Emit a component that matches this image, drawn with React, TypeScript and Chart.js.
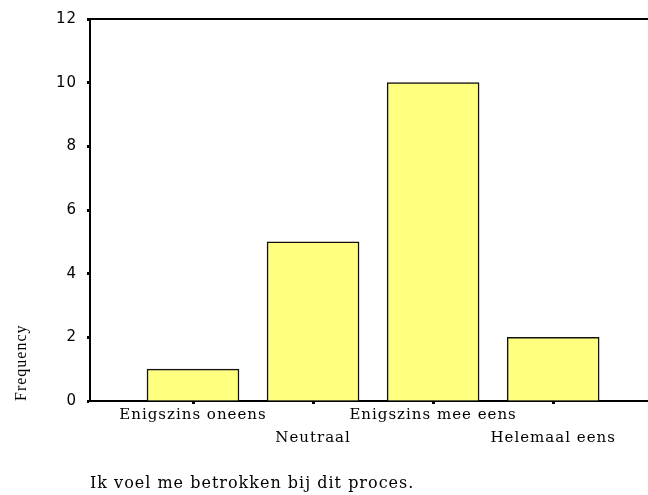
import React, { useEffect, useRef } from "react";
import { Chart, registerables } from "chart.js";

Chart.register(...registerables);

const categories = ["Enigszins oneens", "Neutraal", "Enigszins mee eens", "Helemaal eens"];
const frequencies = [1, 5, 10, 2];
const yTicks = [0, 2, 4, 6, 8, 10, 12];
const xTitle = "Ik voel me betrokken bij dit proces.";
const yTitle = "Frequency";

const spacingPlugin = {
  id: "letterSpacing",
  beforeDraw: (chart: any) => {
    (chart.ctx as any).letterSpacing = "1px";
  },
};

export default function App() {
  const ref = useRef<HTMLCanvasElement | null>(null);

  useEffect(() => {
    document.body.style.margin = "0";
    const canvas = ref.current;
    if (!canvas) return;
    const chart = new Chart(canvas, {
      type: "bar",
      plugins: [spacingPlugin],
      data: {
        datasets: [
          {
            data: frequencies.map((v, i) => ({ x: i, y: v })),
            backgroundColor: "#FFFF80",
            borderColor: "#111111",
            borderWidth: 1.5,
            barThickness: 92,
          },
        ],
      },
      options: {
        animation: false,
        responsive: false,
        maintainAspectRatio: false,
        layout: { padding: { top: 16, right: 0, bottom: 0, left: 0 } },
        plugins: { legend: { display: false }, tooltip: { enabled: false } },
        scales: {
          x: {
            type: "linear",
            position: "bottom",
            offset: false,
            min: -0.858,
            max: 3.79,
            afterBuildTicks: (scale: any) => {
              scale.ticks = categories.map((_, i) => ({ value: i }));
            },
            afterFit: (scale: any) => {
              scale.height = 94;
            },
            grid: {
              display: true,
              offset: false,
              drawOnChartArea: false,
              drawTicks: true,
              tickLength: 3,
              tickWidth: 3,
              color: "#000",
            },
            border: { display: true, color: "#000", width: 2 },
            ticks: {
              autoSkip: false,
              maxRotation: 0,
              minRotation: 0,
              padding: 0,
              color: "#000",
              font: { family: "DejaVu Serif", size: 15, lineHeight: 23 / 15 },
              callback: (_v: any, i: number) =>
                i % 2 === 0 ? [categories[i], ""] : ["", categories[i]],
            },
            title: {
              display: true,
              text: xTitle,
              align: "start",
              color: "#000",
              font: { family: "DejaVu Serif", size: 16 },
              padding: { top: 0, bottom: 2 },
            },
          },
          x2: {
            type: "linear",
            position: "top",
            min: 0,
            max: 1,
            afterFit: (scale: any) => {
              scale.height = 0;
            },
            grid: { display: false },
            ticks: { display: false },
            border: { display: true, color: "#000", width: 2 },
          },
          y: {
            min: 0,
            max: 12,
            afterBuildTicks: (scale: any) => {
              scale.ticks = yTicks.map((v) => ({ value: v }));
            },
            afterFit: (scale: any) => {
              scale.width = 90;
            },
            grid: {
              display: true,
              drawOnChartArea: false,
              drawTicks: true,
              tickLength: 3,
              tickWidth: 3,
              color: "#000",
            },
            border: { display: true, color: "#000", width: 2 },
            ticks: {
              padding: 10,
              color: "#000",
              font: { family: "DejaVu Sans", size: 15 },
            },
            title: {
              display: true,
              text: yTitle,
              align: "start",
              color: "#000",
              font: { family: "Liberation Serif", size: 16 },
              padding: { top: 12, bottom: 0 },
            },
          },
        },
      },
    });
    return () => chart.destroy();
  }, []);

  return (
    <div style={{ width: 648, height: 495, background: "#fff" }}>
      <canvas ref={ref} width={648} height={495} style={{ display: "block" }} />
    </div>
  );
}
